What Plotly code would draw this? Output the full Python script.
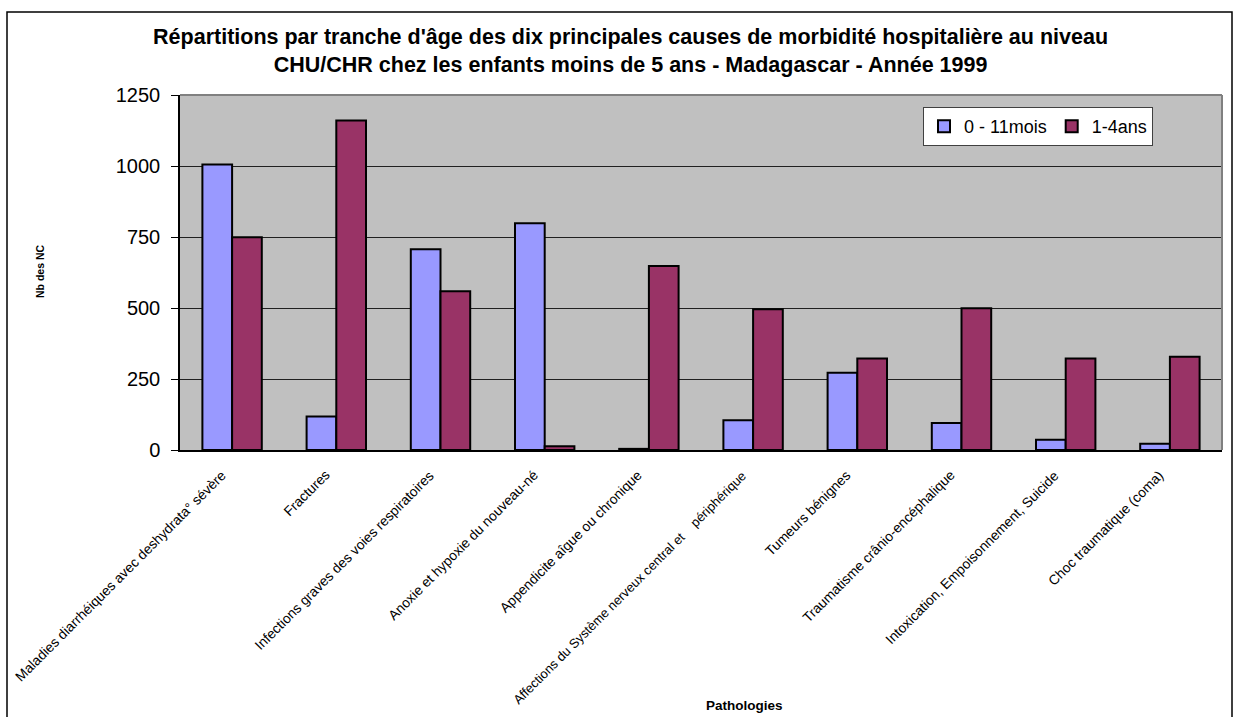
import plotly.graph_objects as go

categories = [
    "Maladies diarrhéiques avec deshydrata° sévère",
    "Fractures",
    "Infections graves des voies respiratoires",
    "Anoxie et hypoxie du nouveau-né",
    "Appendicite aîgue ou chronique",
    "Affections du Système nerveux central et\u00a0\u00a0\u00a0\u00a0périphérique",
    "Tumeurs bénignes",
    "Traumatisme crânio-encéphalique",
    "Intoxication, Empoisonnement, Suicide",
    "Choc traumatique (coma)",
]
series_0_11mois = [1005, 118, 707, 798, 4, 105, 272, 95, 36, 22]
series_1_4ans = [749, 1160, 559, 13, 648, 496, 322, 499, 322, 328]
series_names = ["0 - 11mois", "1-4ans"]
y_ticks = [0, 250, 500, 750, 1000, 1250]

FONT = "Arial, Liberation Sans, sans-serif"

fig = go.Figure()
fig.add_trace(go.Bar(x=categories, y=series_0_11mois, name=series_names[0],
                     marker=dict(color="#9999FF", line=dict(color="black", width=2))))
fig.add_trace(go.Bar(x=categories, y=series_1_4ans, name=series_names[1],
                     marker=dict(color="#993366", line=dict(color="black", width=2))))

L, R, T, B = 180, 12, 95, 267
W, H = 1234, 717
pw = W - L - R
ph = H - T - B

fig.update_layout(
    width=W, height=H,
    margin=dict(l=L, r=R, t=T, b=B, autoexpand=False),
    paper_bgcolor="white",
    plot_bgcolor="#C0C0C0",
    barmode="group",
    bargap=0.43,
    bargroupgap=0,
    font=dict(family=FONT, color="black"),
    title=dict(
        text="Répartitions par tranche d'âge des dix principales causes de morbidité hospitalière au niveau<br>CHU/CHR chez les enfants moins de 5 ans - Madagascar - Année 1999",
        font=dict(size=21.5, family=FONT, color="black", weight="bold"),
        x=0.511, xanchor="center", xref="container",
        y=1 - 44 / H, yanchor="middle", yref="container",
    ),
    legend=dict(
        orientation="h",
        x=(923 - L) / pw, xanchor="left",
        y=(H - B - 107) / ph, yanchor="top",
        bgcolor="white", bordercolor="#404040", borderwidth=1,
        font=dict(size=18, family=FONT),
        itemwidth=30,
    ),
    showlegend=True,
    xaxis=dict(
        type="category",
        range=[-0.5, len(categories) - 0.5],
        autorange=False,
        showticklabels=False,
        showline=True, linecolor="black", linewidth=1.5,
        ticks="", showgrid=False,
        automargin=False,
    ),
    yaxis=dict(
        range=[0, 1250],
        autorange=False,
        tickvals=y_ticks,
        tickfont=dict(size=20, family=FONT),
        showline=True, linecolor="black", linewidth=1.5,
        ticks="outside", ticklen=7, tickcolor="black",
        ticklabelstandoff=7,
        showgrid=True, gridcolor="#202020", gridwidth=1,
        zeroline=False,
        automargin=False,
    ),
)

# category labels placed on the x axis scale (rotated like the reference)
for c in categories:
    long_label = len(c) > 50
    fig.add_annotation(text=c, x=c, xref="x", y=0, yref="paper",
                       textangle=-45, xanchor="right", yanchor="top",
                       xshift=-1, yshift=-15, showarrow=False,
                       font=dict(size=13.0 if long_label else 13.8, family=FONT))

fig.add_annotation(text="<b>Pathologies</b>", xref="paper", yref="paper",
                   x=(744 - L) / pw, y=(H - B - 705) / ph, showarrow=False,
                   font=dict(size=13.5, family=FONT), xanchor="center", yanchor="middle")
fig.add_annotation(text="<b>Nb des NC</b>", xref="paper", yref="paper",
                   x=(40 - L) / pw, y=(H - B - 271) / ph, showarrow=False, textangle=-90,
                   font=dict(size=10.5, family=FONT), xanchor="center", yanchor="middle")

# plot area border (top/right gray)
fig.add_shape(type="line", xref="paper", yref="paper", x0=0, x1=1, y0=1, y1=1,
              line=dict(color="#808080", width=2))
fig.add_shape(type="line", xref="paper", yref="paper", x0=1, x1=1, y0=0, y1=1,
              line=dict(color="#808080", width=2))
# outer chart border
fig.add_shape(type="rect", xref="paper", yref="paper",
              x0=(7 - L) / pw, x1=(1232 - L) / pw,
              y0=(H - B - 720) / ph, y1=(H - B - 12) / ph,
              line=dict(color="black", width=1.5), fillcolor="rgba(0,0,0,0)", layer="below")

fig.write_html("out.html", config={"displayModeBar": False},
               post_script="document.body.style.margin='0';document.body.style.padding='0';")
